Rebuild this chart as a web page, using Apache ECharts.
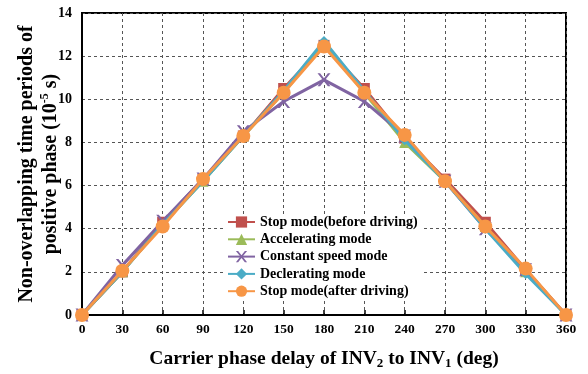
<!DOCTYPE html>
<html><head><meta charset="utf-8">
<script src="https://cdn.jsdelivr.net/npm/echarts@6/dist/echarts.min.js"></script>
<style>html,body{margin:0;padding:0;background:#fff}#c{width:588px;height:374px}</style>
</head><body><div id="c"></div>
<script>
const categories = [0,30,60,90,120,150,180,210,240,270,300,330,360];
const stopBefore = [0,2.0,4.3,6.3,8.3,10.5,12.5,10.5,8.2,6.3,4.3,2.1,0];
const accelerating = [0,2.0,4.2,6.2,8.3,10.3,12.6,10.3,8.0,6.2,4.1,2.0,0];
const constantSpeed = [0,2.3,4.35,6.3,8.5,9.9,10.9,9.9,8.3,6.2,4.0,2.1,0];
const decelerating = [0,2.0,4.2,6.2,8.3,10.4,12.7,10.4,8.1,6.2,4.0,1.9,0];
const stopAfter = [0,2.05,4.1,6.3,8.3,10.3,12.45,10.3,8.35,6.2,4.1,2.15,0];
const seriesNames = ['Stop mode(before driving)','Accelerating mode','Constant speed mode','Declerating mode','Stop mode(after driving)'];
const yTicks = [0,2,4,6,8,10,12,14];

const font = 'Liberation Serif';
const xPath = 'path://M0,0 L2,0 L5,3 L8,0 L10,0 L6,4 L10,8 L8,8 L5,5 L2,8 L0,8 L4,4 Z';
const colors = ['#C0504D','#9BBB59','#8064A2','#4BACC6','#F79646'];
const symbols = ['rect','triangle',xPath,'diamond','circle'];
const sizes = [11,11,13,10,14];
const datas = [stopBefore,accelerating,constantSpeed,decelerating,stopAfter];

const chart = echarts.init(document.getElementById('c'));
chart.setOption({
  animation:false,
  textStyle:{fontFamily:font},
  grid:{left:82,right:22,top:13,bottom:59,show:true,borderColor:'#000',borderWidth:2,outerBoundsMode:'none',containLabel:false},
  legend:{
    orient:'vertical', left:225, top:214, itemGap:3.3, itemWidth:27, itemHeight:14,
    backgroundColor:'#fff', padding:[1,4,1,2],
    textStyle:{fontFamily:font,fontWeight:'bold',fontSize:14,color:'#000'},
    data:seriesNames
  },
  xAxis:{
    type:'value', min:0, max:360, interval:30,
    name:'{a|Carrier phase delay of INV}{s|2}{a| to INV}{s|1}{a| (deg)}',
    nameLocation:'middle', nameGap:33, nameMoveOverlap:false,
    nameTextStyle:{rich:{a:{fontFamily:font,fontWeight:'bold',fontSize:19.5,color:'#000'},s:{fontFamily:font,fontWeight:'bold',fontSize:13,color:'#000',verticalAlign:'bottom',padding:[9,0,0,0]}}},
    axisLine:{lineStyle:{color:'#000',width:2}},
    axisTick:{inside:true,length:5,lineStyle:{color:'#000',width:1.5}},
    axisLabel:{fontFamily:font,fontWeight:'bold',fontSize:13.5,color:'#000',margin:8},
    splitLine:{show:true,lineStyle:{color:'#555',type:[3,3],width:1}}
  },
  yAxis:{
    type:'value', min:0, max:14, interval:2,
    name:'{a|Non-overlapping time periods of}\n{a|positive phase (10}{s|-5}{a| s)}',
    nameLocation:'middle', nameGap:19, nameRotate:90, nameMoveOverlap:false,
    nameTextStyle:{lineHeight:24,rich:{a:{fontFamily:font,fontWeight:'bold',fontSize:20,color:'#000',lineHeight:24},s:{fontFamily:font,fontWeight:'bold',fontSize:12,color:'#000',verticalAlign:'top',lineHeight:24}}},
    axisLine:{lineStyle:{color:'#000',width:2}},
    axisTick:{show:false},
    axisLabel:{fontFamily:font,fontWeight:'bold',fontSize:14,color:'#000',margin:10},
    splitLine:{show:true,lineStyle:{color:'#555',type:[3,3],width:1}}
  },
  series:seriesNames.map((n,i)=>({
    name:n, type:'line', data:categories.map((c,j)=>[c,datas[i][j]]),
    symbol:symbols[i], symbolSize:sizes[i], showAllSymbol:true,
    itemStyle:{color:colors[i]}, lineStyle:{color:colors[i],width:3}, z:2+i
  }))
});
</script></body></html>
